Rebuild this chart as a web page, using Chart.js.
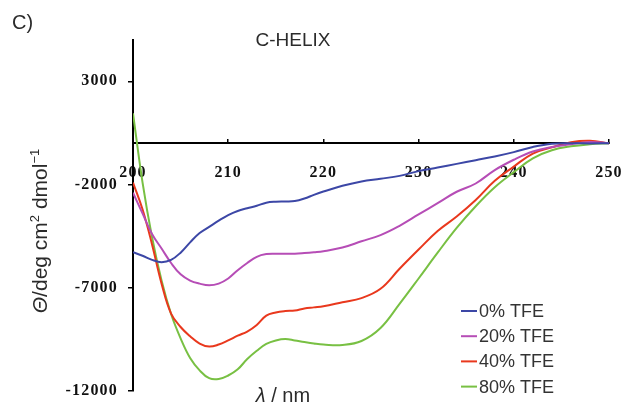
<!DOCTYPE html>
<html>
<head>
<meta charset="utf-8">
<script src="https://cdn.jsdelivr.net/npm/chart.js@4"></script>
<style>
  html, body { margin: 0; padding: 0; background: #fff; }
</style>
</head>
<body>
<canvas id="cdChart" width="632" height="403"></canvas>
<script>
// wavelength (nm) and mean residue ellipticity per TFE concentration
const wavelength = [200, 201, 202, 203, 204, 205, 206, 207, 208, 209, 210, 211, 212, 213, 214, 215, 216, 217, 218, 219, 220,
  222, 224, 226, 228, 230, 232, 234, 236, 238, 240, 242, 244, 246, 248, 250];

const tfe0 = [-5280, -5450, -5650, -5760, -5650, -5300, -4800, -4350, -4050, -3750, -3480, -3280, -3150, -3030, -2880, -2830, -2820, -2800, -2680, -2500, -2340,
  -2060, -1850, -1720, -1580, -1350, -1180, -1000, -820, -640, -430, -180, -20, 0, -10, 0];
const tfe20 = [-2400, -3400, -4400, -5100, -5800, -6350, -6650, -6800, -6880, -6800, -6550, -6150, -5800, -5500, -5370, -5350, -5350, -5350, -5320, -5280, -5230,
  -5050, -4750, -4450, -4000, -3450, -2900, -2350, -1950, -1300, -800, -400, -180, -50, 60, 0];
const tfe40 = [-1900, -3200, -4900, -6800, -8250, -8900, -9350, -9700, -9850, -9750, -9550, -9320, -9120, -8800, -8350, -8200, -8130, -8100, -8000, -7950, -7900,
  -7700, -7500, -7050, -6080, -5150, -4250, -3550, -2750, -1820, -1130, -500, -200, 50, 120, 0];
const tfe80 = [1450, -1900, -4550, -6650, -8270, -9450, -10400, -11000, -11380, -11420, -11250, -10950, -10450, -10050, -9720, -9550, -9480, -9550, -9630, -9700, -9750,
  -9770, -9580, -8950, -7780, -6550, -5300, -4100, -3050, -2130, -1400, -730, -340, -150, -50, 0];

const seriesLabels = ['0% TFE', '20% TFE', '40% TFE', '80% TFE'];
const xTicks = [200, 210, 220, 230, 240, 250];
const yTicks = [-12000, -7000, -2000, 3000];

const colors = ['#3c47a6', '#b64db6', '#e9381d', '#78c043'];
const series = [tfe0, tfe20, tfe40, tfe80];

const toPoints = (vals) => vals.map((v, i) => ({ x: wavelength[i], y: v }));

const tickFont = { family: '"Liberation Serif", "Times New Roman", serif', size: 16, weight: 'bold' };
const sans = '"Liberation Sans", Arial, sans-serif';

// draw a run of text pieces (italic / superscript) centred on (cx, cy)
function drawRich(ctx, parts, cx, cy, size) {
  const fontFor = (p) => (p.italic ? 'italic ' : '') + (p.sup ? Math.round(size * 0.62) : size) + 'px ' + sans;
  let total = 0;
  parts.forEach((p) => { ctx.font = fontFor(p); total += ctx.measureText(p.t).width; });
  let x = cx - total / 2;
  ctx.textAlign = 'left';
  ctx.textBaseline = 'alphabetic';
  parts.forEach((p) => {
    ctx.font = fontFor(p);
    ctx.fillText(p.t, x, cy + size * 0.35 - (p.sup ? size * 0.42 : 0));
    x += ctx.measureText(p.t).width;
  });
}

const tickSpacing = {
  id: 'tickSpacing',
  beforeDraw(chart) { chart.ctx.letterSpacing = '1.2px'; },
  beforeDatasetsDraw(chart) { chart.ctx.letterSpacing = '0px'; }
};

const annotations = {
  id: 'annotations',
  afterDraw(chart) {
    const ctx = chart.ctx;
    ctx.save();
    ctx.letterSpacing = '0px';
    ctx.fillStyle = '#2b2b2b';

    ctx.font = '20px ' + sans;
    ctx.textAlign = 'left';
    ctx.textBaseline = 'middle';
    ctx.fillText('C)', 12, 23);
    ctx.font = '19px ' + sans;
    ctx.textAlign = 'center';
    ctx.fillText('C-HELIX', 293, 41);

    drawRich(ctx, [{ t: 'λ', italic: true }, { t: ' / nm' }], 283, 395, 20);

    ctx.save();
    ctx.translate(40, 231);
    ctx.rotate(-Math.PI / 2);
    drawRich(ctx, [{ t: 'Θ', italic: true }, { t: '/deg cm' }, { t: '2', sup: true }, { t: ' dmol' }, { t: '−1', sup: true }], 0, 0, 21);
    ctx.restore();

    // legend
    ctx.font = '18px ' + sans;
    ctx.textAlign = 'left';
    ctx.textBaseline = 'middle';
    chart.data.datasets.forEach((ds, i) => {
      const y = 311 + i * 25.2;
      ctx.strokeStyle = ds.borderColor;
      ctx.lineWidth = 2;
      ctx.beginPath();
      ctx.moveTo(461, y);
      ctx.lineTo(477, y);
      ctx.stroke();
      ctx.fillStyle = '#333';
      ctx.fillText(ds.label, 479, y + 1);
    });
    ctx.restore();
  }
};

const ctx = document.getElementById('cdChart').getContext('2d');

new Chart(ctx, {
  type: 'line',
  data: {
    datasets: series.map((vals, i) => ({
      label: seriesLabels[i],
      data: toPoints(vals),
      borderColor: colors[i],
      borderWidth: 2,
      pointRadius: 0,
      fill: false,
      tension: 0.4
    }))
  },
  options: {
    responsive: false,
    animation: false,
    devicePixelRatio: 1,
    layout: { padding: { left: 63, right: 23, top: 40, bottom: 12 } },
    plugins: { legend: { display: false }, tooltip: { enabled: false } },
    scales: {
      x: {
        type: 'linear',
        position: { y: 0 },
        min: 200,
        max: 250,
        afterBuildTicks: (s) => { s.ticks = xTicks.map((v) => ({ value: v })); },
        afterFit: (s) => { s.paddingLeft = 0; s.paddingRight = 0; s.paddingTop = 0; s.paddingBottom = 0; },
        grid: { drawOnChartArea: false, drawTicks: true, tickLength: -5, color: '#000', lineWidth: 1.5 },
        border: { color: '#000', width: 2 },
        ticks: { padding: 25, color: '#111', font: tickFont, maxRotation: 0, autoSkip: false, callback: (v) => String(v) }
      },
      y: {
        min: -12000,
        max: 5000,
        afterBuildTicks: (s) => { s.ticks = yTicks.map((v) => ({ value: v })); },
        afterFit: (s) => { s.width = 70; s.paddingTop = 0; s.paddingBottom = 0; },
        grid: { drawOnChartArea: false, drawTicks: true, tickLength: 5, color: '#000', lineWidth: 1.5 },
        border: { color: '#000', width: 2 },
        ticks: { padding: 10, color: '#111', font: tickFont, autoSkip: false, callback: (v) => String(v) }
      }
    }
  },
  plugins: [tickSpacing, annotations]
});
</script>
</body>
</html>
